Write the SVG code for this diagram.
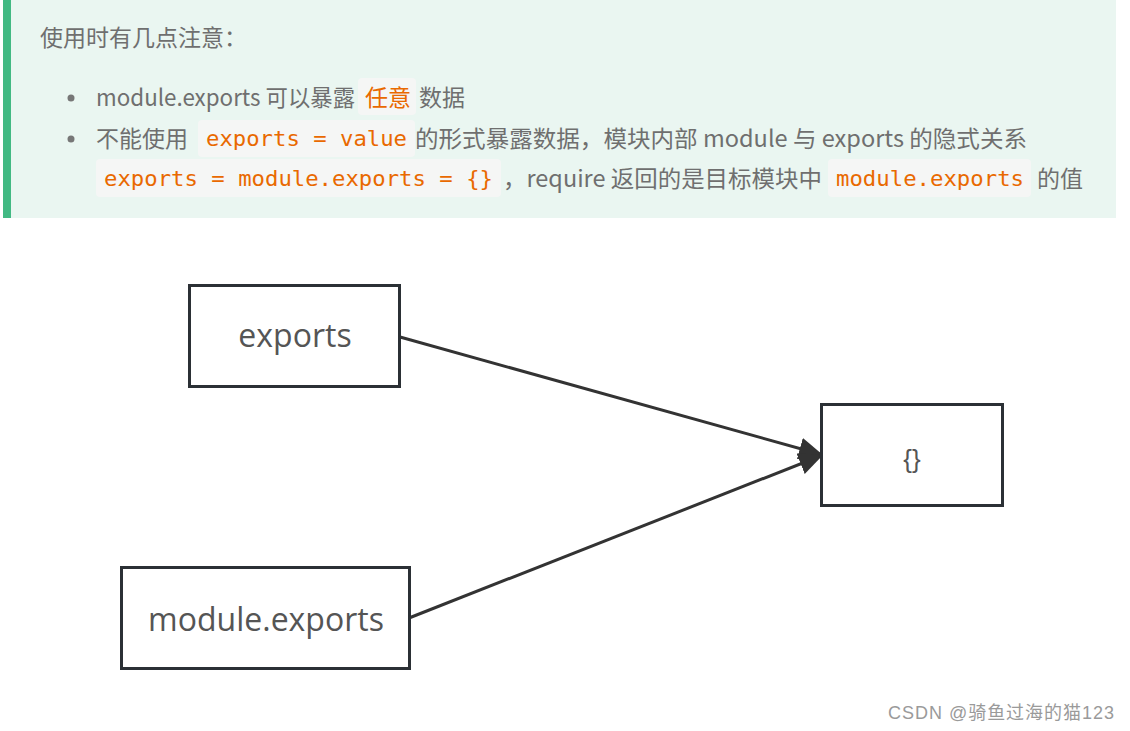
<svg xmlns="http://www.w3.org/2000/svg" width="1130" height="731" viewBox="0 0 1130 731">
<defs>
<style>
.t{font-family:"Noto Sans CJK SC","Noto Sans",sans-serif;font-size:23px;fill:#6f6f6f}
.c{font-family:"DejaVu Sans Mono","Liberation Mono",monospace;font-size:21px;fill:#e96900}
.cb{fill:#f5f6f5}
.box{fill:#fff;stroke:#2b3035;stroke-width:3}
.lbl{font-family:"Open Sans","Noto Sans",sans-serif;font-size:32px;fill:#555;text-anchor:middle}
.edge{stroke:#333;stroke-width:3;fill:none}
</style>
<marker id="ah" viewBox="0 0 10 10" refX="10" refY="5" markerWidth="24" markerHeight="22" markerUnits="userSpaceOnUse" orient="auto" preserveAspectRatio="none">
<path d="M0,0 L10,5 L0,10 z" fill="#333"/>
</marker>
</defs>
<rect width="1130" height="731" fill="#fff"/>
<g id="tip">
<rect x="3" y="0" width="1113" height="218" fill="#eaf6f1"/>
<rect x="3" y="0" width="8" height="218" fill="#42b983"/>
<text class="t" x="40" y="46">使用时有几点注意：</text>
<circle cx="71" cy="98" r="3.5" fill="#777"/>
<text class="t" x="96" y="106" textLength="259" lengthAdjust="spacingAndGlyphs">module.exports 可以暴露</text>
<rect class="cb" x="358" y="78" width="58" height="37" rx="4"/>
<text class="t" x="365" y="106" style="fill:#e96900">任意</text>
<text class="t" x="419" y="106">数据</text>
<circle cx="71" cy="139" r="3.5" fill="#777"/>
<text class="t" x="96" y="147">不能使用</text>
<rect class="cb" x="198" y="120" width="217" height="37" rx="4"/>
<text class="c" x="206" y="146" textLength="201" lengthAdjust="spacingAndGlyphs">exports = value</text>
<text class="t" x="415" y="147" textLength="612" lengthAdjust="spacingAndGlyphs">的形式暴露数据，模块内部 module 与 exports 的隐式关系</text>
<rect class="cb" x="96" y="159" width="405" height="38" rx="4"/>
<text class="c" x="104" y="186" textLength="389" lengthAdjust="spacingAndGlyphs">exports = module.exports = {}</text>
<text class="t" x="503" y="187" textLength="319" lengthAdjust="spacingAndGlyphs">，require 返回的是目标模块中</text>
<rect class="cb" x="828" y="159" width="203" height="38" rx="4"/>
<text class="c" x="836" y="186" textLength="188" lengthAdjust="spacingAndGlyphs">module.exports</text>
<text class="t" x="1037" y="187">的值</text>
</g>
<g id="connectors">
<line class="edge" x1="400" y1="337" x2="823" y2="455" marker-end="url(#ah)"/>
<line class="edge" x1="409" y1="618" x2="823" y2="455" marker-end="url(#ah)"/>
</g>
<g id="node-exports">
<rect class="box" x="189.5" y="285.5" width="210" height="101"/>
<text class="lbl" x="295" y="347">exports</text>
</g>
<g id="node-obj">
<rect class="box" x="821.5" y="404.5" width="181" height="101"/>
<text class="lbl" x="912" y="468" style="font-family:'Liberation Sans',sans-serif;font-size:26px">{}</text>
</g>
<g id="node-module-exports">
<rect class="box" x="121.5" y="567.5" width="288" height="101"/>
<text class="lbl" x="266" y="631">module.exports</text>
</g>
<text x="888" y="719" style="font-family:'Liberation Sans','Noto Sans CJK SC',sans-serif;font-size:18px;fill:#9a9a9a" textLength="226">CSDN @骑鱼过海的猫123</text>
</svg>
